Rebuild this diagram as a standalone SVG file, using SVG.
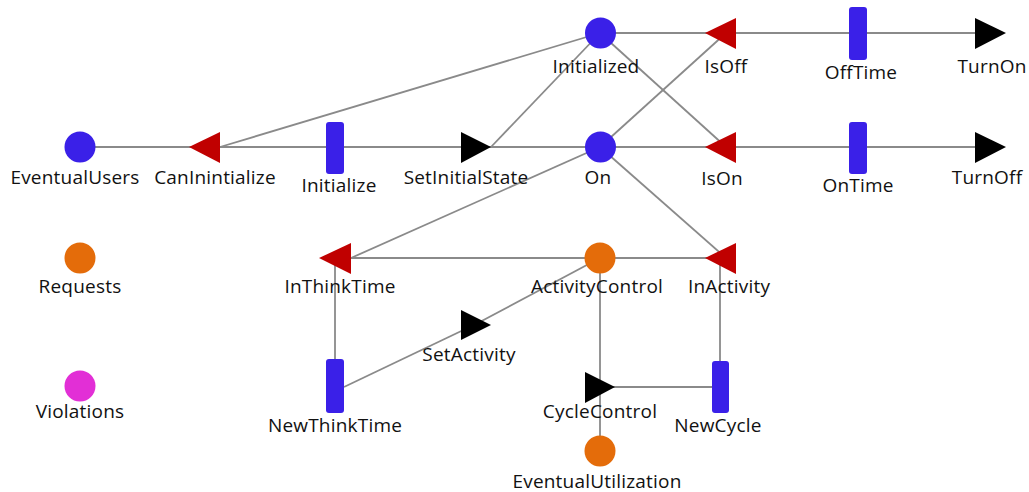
<svg xmlns="http://www.w3.org/2000/svg" width="1029" height="492" viewBox="0 0 1029 492">
  <style>
    .edge { stroke: #8a8a8a; stroke-width: 1.8; fill: none; }
    .place { fill: #3a20e8; }
    .place.shared { fill: #e46c0a; }
    .place.alert { fill: #e22fd6; }
    .test { fill: #c00000; }
    .act { fill: #000000; }
    .delay { fill: #3a20e8; }
    text { font-family: "Open Sans", "Noto Sans", "DejaVu Sans", sans-serif; font-size: 19px; letter-spacing: 0.2px; fill: #111111; text-anchor: middle; }
  </style>
  <rect width="1029" height="492" fill="#ffffff"/>

  <g id="connectors">
    <line class="edge" x1="80" y1="147" x2="210" y2="147"/>
    <line class="edge" x1="600" y1="33" x2="220" y2="147"/>
    <line class="edge" x1="220" y1="147" x2="335" y2="147"/>
    <line class="edge" x1="335" y1="147" x2="476" y2="147"/>
    <line class="edge" x1="476" y1="147" x2="600" y2="147"/>
    <line class="edge" x1="491" y1="147" x2="600" y2="33"/>
    <line class="edge" x1="600" y1="33" x2="726" y2="33"/>
    <line class="edge" x1="726" y1="33" x2="858" y2="33"/>
    <line class="edge" x1="858" y1="33" x2="990" y2="33"/>
    <line class="edge" x1="600" y1="33" x2="726" y2="147"/>
    <line class="edge" x1="600" y1="147" x2="726" y2="33"/>
    <line class="edge" x1="600" y1="147" x2="726" y2="147"/>
    <line class="edge" x1="726" y1="147" x2="858" y2="147"/>
    <line class="edge" x1="858" y1="147" x2="990" y2="147"/>
    <line class="edge" x1="600" y1="147" x2="351" y2="258"/>
    <line class="edge" x1="600" y1="147" x2="726" y2="258"/>
    <line class="edge" x1="340" y1="258" x2="600" y2="258"/>
    <line class="edge" x1="600" y1="258" x2="726" y2="258"/>
    <line class="edge" x1="335" y1="258" x2="335" y2="386"/>
    <line class="edge" x1="344" y1="387" x2="476" y2="324"/>
    <line class="edge" x1="476" y1="324" x2="600" y2="258"/>
    <line class="edge" x1="600" y1="258" x2="600" y2="387"/>
    <line class="edge" x1="600" y1="387" x2="600" y2="451"/>
    <line class="edge" x1="600" y1="387" x2="720" y2="387"/>
    <line class="edge" x1="720" y1="258" x2="720" y2="387"/>
  </g>

  <g id="EventualUsers">
    <circle class="place" cx="80" cy="147" r="15.5"/>
    <text x="75" y="184">EventualUsers</text>
  </g>
  <g id="CanInintialize">
    <polygon class="test" points="189,147 220,132 220,163"/>
    <text x="215" y="184">CanInintialize</text>
  </g>
  <g id="Initialize">
    <rect class="delay" x="326" y="122" width="18" height="52" rx="3"/>
    <text x="339" y="192">Initialize</text>
  </g>
  <g id="SetInitialState">
    <polygon class="act" points="461,132 461,163 491,147"/>
    <text x="466" y="184">SetInitialState</text>
  </g>
  <g id="Initialized">
    <circle class="place" cx="600.5" cy="33" r="15.5"/>
    <text x="596" y="73">Initialized</text>
  </g>
  <g id="IsOff">
    <polygon class="test" points="705,33 736,18 736,49"/>
    <text x="726" y="73">IsOff</text>
  </g>
  <g id="OffTime">
    <rect class="delay" x="849" y="7" width="18" height="53" rx="3"/>
    <text x="861" y="79">OffTime</text>
  </g>
  <g id="TurnOn">
    <polygon class="act" points="975,18 975,49 1006,33"/>
    <text x="992" y="73">TurnOn</text>
  </g>
  <g id="On">
    <circle class="place" cx="600.5" cy="147" r="15.5"/>
    <text x="598" y="184">On</text>
  </g>
  <g id="IsOn">
    <polygon class="test" points="705,147 736,132 736,163"/>
    <text x="722" y="185">IsOn</text>
  </g>
  <g id="OnTime">
    <rect class="delay" x="849" y="122" width="18" height="52" rx="3"/>
    <text x="858" y="192">OnTime</text>
  </g>
  <g id="TurnOff">
    <polygon class="act" points="975,132 975,163 1006,147"/>
    <text x="987" y="184">TurnOff</text>
  </g>
  <g id="Requests">
    <circle class="place shared" cx="80" cy="258" r="15.5"/>
    <text x="80" y="293">Requests</text>
  </g>
  <g id="InThinkTime">
    <polygon class="test" points="319,258 351,243 351,274"/>
    <text x="340" y="293">InThinkTime</text>
  </g>
  <g id="ActivityControl">
    <circle class="place shared" cx="600" cy="258" r="15.5"/>
    <text x="597" y="293">ActivityControl</text>
  </g>
  <g id="InActivity">
    <polygon class="test" points="705,258 736,243 736,274"/>
    <text x="729" y="293">InActivity</text>
  </g>
  <g id="SetActivity">
    <polygon class="act" points="461,310 461,340 491,325"/>
    <text x="469" y="361">SetActivity</text>
  </g>
  <g id="Violations">
    <circle class="place alert" cx="80" cy="386" r="15.5"/>
    <text x="80" y="418">Violations</text>
  </g>
  <g id="NewThinkTime">
    <rect class="delay" x="326" y="359" width="18" height="54" rx="3"/>
    <text x="335" y="432">NewThinkTime</text>
  </g>
  <g id="CycleControl">
    <polygon class="act" points="585,372 585,403 615,387"/>
    <text x="600" y="418">CycleControl</text>
  </g>
  <g id="NewCycle">
    <rect class="delay" x="712" y="361" width="17" height="52" rx="3"/>
    <text x="718" y="432">NewCycle</text>
  </g>
  <g id="EventualUtilization">
    <circle class="place shared" cx="600" cy="451" r="15.5"/>
    <text x="597" y="488">EventualUtilization</text>
  </g>
</svg>
